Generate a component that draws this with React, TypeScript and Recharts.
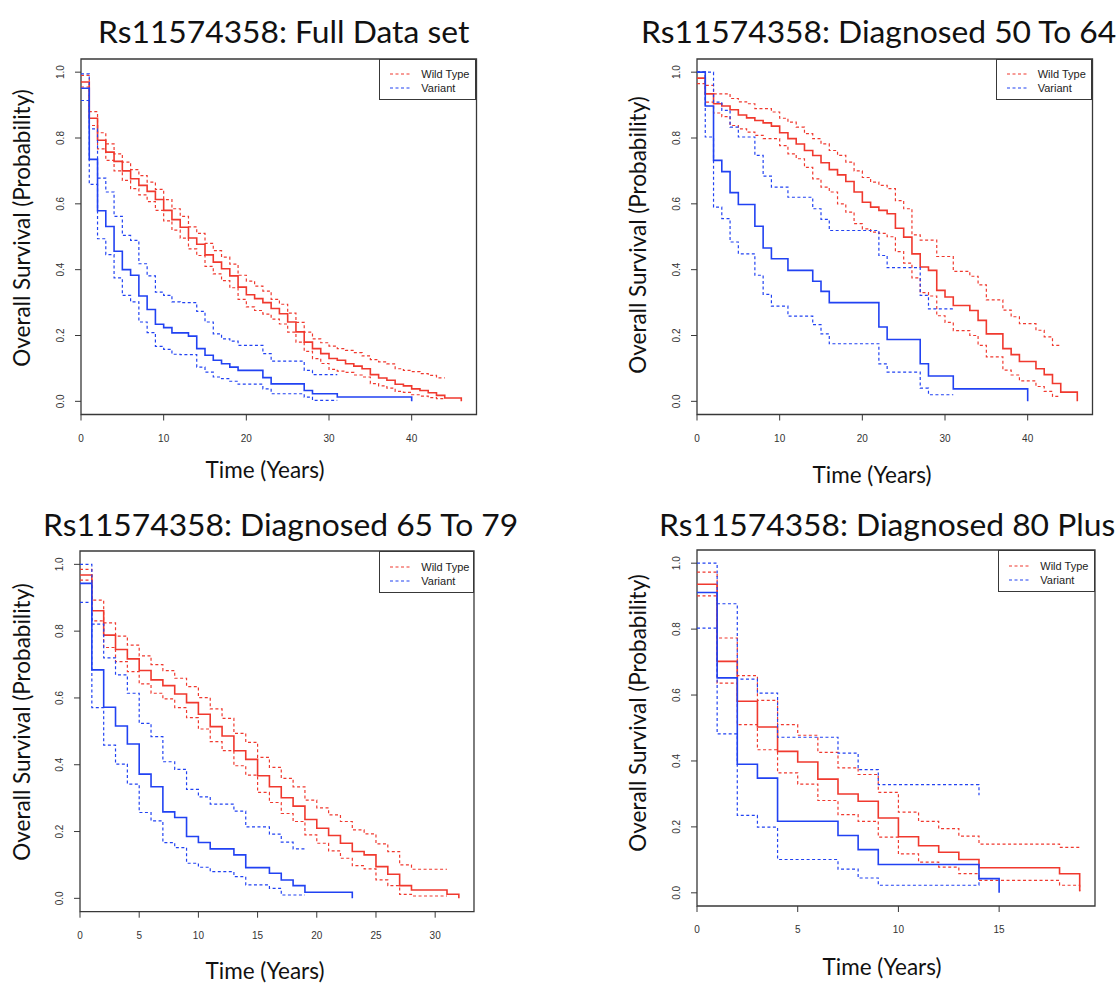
import React from "react";
import { LineChart, Line, XAxis, YAxis, ReferenceArea } from "recharts";

const RED = "#f0392e";
const BLUE = "#2142f2";
const FRAME = "#383838";
const TICK_FONT = "'Liberation Sans', Arial, sans-serif";
const LABEL_FONT = "Lato, 'Open Sans', sans-serif";

// ---------- Full data set ----------
const fullWtYears = [0, 1, 2, 3, 4, 5, 6, 7, 8, 9, 10, 11, 12, 13, 14, 15, 16, 17, 18, 19, 20, 21, 22, 23, 24, 25, 26, 27, 28, 29, 30, 31, 32, 33, 34, 35, 36, 37, 38, 39, 40, 41, 42, 43, 44, 45, 46];
const fullWtEst = [0.97, 0.86, 0.793, 0.757, 0.729, 0.7, 0.676, 0.656, 0.638, 0.613, 0.58, 0.552, 0.529, 0.496, 0.477, 0.445, 0.423, 0.403, 0.381, 0.347, 0.324, 0.312, 0.3, 0.282, 0.266, 0.241, 0.211, 0.18, 0.16, 0.145, 0.13, 0.125, 0.114, 0.107, 0.099, 0.081, 0.071, 0.064, 0.052, 0.047, 0.038, 0.033, 0.026, 0.018, 0.01, 0.01, 0];
const fullWtHi = [0.99, 0.88, 0.816, 0.782, 0.752, 0.727, 0.704, 0.686, 0.666, 0.644, 0.613, 0.585, 0.562, 0.53, 0.51, 0.48, 0.458, 0.438, 0.417, 0.383, 0.365, 0.35, 0.335, 0.31, 0.295, 0.268, 0.24, 0.21, 0.19, 0.178, 0.168, 0.16, 0.155, 0.148, 0.138, 0.127, 0.12, 0.114, 0.099, 0.094, 0.09, 0.084, 0.079, 0.071, 0.071];
const fullWtLo = [0.955, 0.838, 0.767, 0.732, 0.7, 0.671, 0.646, 0.627, 0.607, 0.58, 0.548, 0.52, 0.496, 0.463, 0.443, 0.41, 0.387, 0.367, 0.345, 0.31, 0.287, 0.276, 0.265, 0.25, 0.235, 0.21, 0.18, 0.152, 0.13, 0.115, 0.097, 0.092, 0.088, 0.08, 0.074, 0.054, 0.047, 0.04, 0.03, 0.027, 0.02, 0.016, 0.011, 0.008, 0.008];
const fullVarYears = [0, 1, 2, 3, 4, 5, 6, 7, 8, 9, 10, 11, 12, 13, 14, 15, 16, 17, 18, 19, 22, 23, 27, 28, 31, 40];
const fullVarEst = [0.951, 0.735, 0.579, 0.531, 0.456, 0.4, 0.383, 0.32, 0.279, 0.234, 0.224, 0.208, 0.208, 0.198, 0.16, 0.14, 0.125, 0.114, 0.104, 0.094, 0.072, 0.053, 0.033, 0.023, 0.013, 0];
const fullVarHi = [0.995, 0.828, 0.678, 0.636, 0.562, 0.504, 0.489, 0.418, 0.381, 0.332, 0.322, 0.302, 0.3, 0.3, 0.273, 0.241, 0.205, 0.19, 0.183, 0.17, 0.145, 0.122, 0.094, 0.081, 0.081];
const fullVarLo = [0.914, 0.659, 0.494, 0.446, 0.375, 0.322, 0.302, 0.241, 0.209, 0.167, 0.158, 0.143, 0.142, 0.142, 0.104, 0.089, 0.074, 0.069, 0.061, 0.052, 0.038, 0.023, 0.013, 0.003, 0.003];

// ---------- Diagnosed 50 to 64 ----------
const midWtYears = [0, 1, 2, 3, 4, 5, 6, 7, 8, 9, 10, 11, 12, 13, 14, 15, 16, 17, 18, 19, 20, 21, 22, 23, 24, 25, 26, 27, 28, 29, 30, 31, 32, 33, 34, 35, 36, 37, 38, 39, 40, 41, 42, 43, 44, 45, 46];
const midWtEst = [0.982, 0.934, 0.904, 0.897, 0.886, 0.87, 0.861, 0.853, 0.846, 0.836, 0.816, 0.798, 0.782, 0.762, 0.747, 0.725, 0.704, 0.688, 0.668, 0.636, 0.605, 0.59, 0.58, 0.57, 0.526, 0.499, 0.448, 0.408, 0.398, 0.337, 0.317, 0.291, 0.291, 0.276, 0.246, 0.205, 0.205, 0.16, 0.142, 0.121, 0.121, 0.099, 0.081, 0.054, 0.028, 0.028, 0];
const midWtHi = [1.0, 0.96, 0.934, 0.934, 0.92, 0.91, 0.904, 0.889, 0.889, 0.879, 0.86, 0.848, 0.833, 0.813, 0.798, 0.782, 0.762, 0.747, 0.727, 0.7, 0.68, 0.666, 0.656, 0.646, 0.61, 0.585, 0.506, 0.49, 0.49, 0.44, 0.44, 0.395, 0.395, 0.38, 0.354, 0.308, 0.308, 0.277, 0.257, 0.236, 0.236, 0.216, 0.196, 0.17, 0.17];
const midWtLo = [0.965, 0.909, 0.876, 0.865, 0.838, 0.828, 0.818, 0.808, 0.798, 0.798, 0.777, 0.752, 0.737, 0.711, 0.676, 0.651, 0.636, 0.6, 0.575, 0.54, 0.524, 0.514, 0.51, 0.5, 0.455, 0.42, 0.375, 0.33, 0.32, 0.26, 0.24, 0.215, 0.215, 0.2, 0.17, 0.135, 0.135, 0.095, 0.08, 0.062, 0.062, 0.045, 0.03, 0.015, 0.015];
const midVarYears = [0, 1, 2, 3, 4, 5, 7, 8, 9, 11, 14, 15, 16, 22, 23, 27, 28, 31, 40];
const midVarEst = [1.0, 0.897, 0.732, 0.698, 0.634, 0.598, 0.532, 0.466, 0.433, 0.398, 0.365, 0.334, 0.3, 0.226, 0.188, 0.114, 0.077, 0.038, 0];
const midVarHi = [1.0, 1.0, 0.909, 0.884, 0.833, 0.803, 0.747, 0.684, 0.651, 0.62, 0.585, 0.553, 0.519, 0.443, 0.406, 0.322, 0.281, 0.281];
const midVarLo = [1.0, 0.803, 0.59, 0.555, 0.484, 0.448, 0.383, 0.325, 0.289, 0.259, 0.233, 0.205, 0.175, 0.114, 0.089, 0.04, 0.02, 0.02];

// ---------- Diagnosed 65 to 79 ----------
const oldWtYears = [0, 1, 2, 3, 4, 5, 6, 7, 8, 9, 10, 11, 12, 13, 14, 15, 16, 17, 18, 19, 20, 21, 22, 23, 24, 25, 26, 27, 28, 29, 30, 31, 32];
const oldWtEst = [0.968, 0.861, 0.788, 0.745, 0.717, 0.682, 0.654, 0.637, 0.612, 0.586, 0.551, 0.514, 0.486, 0.442, 0.416, 0.367, 0.334, 0.301, 0.276, 0.236, 0.21, 0.188, 0.165, 0.14, 0.13, 0.095, 0.072, 0.038, 0.025, 0.025, 0.025, 0.012, 0];
const oldWtHi = [0.985, 0.893, 0.825, 0.785, 0.758, 0.726, 0.7, 0.682, 0.659, 0.634, 0.601, 0.567, 0.539, 0.494, 0.467, 0.422, 0.392, 0.359, 0.334, 0.294, 0.271, 0.25, 0.23, 0.205, 0.193, 0.163, 0.14, 0.1, 0.087, 0.087, 0.087, 0.087];
const oldWtLo = [0.953, 0.831, 0.751, 0.709, 0.679, 0.642, 0.614, 0.597, 0.571, 0.541, 0.507, 0.469, 0.442, 0.397, 0.369, 0.317, 0.287, 0.254, 0.23, 0.19, 0.165, 0.142, 0.12, 0.098, 0.088, 0.055, 0.038, 0.012, 0.007, 0.007, 0.007, 0.007];
const oldVarYears = [0, 1, 2, 3, 4, 5, 6, 7, 8, 9, 10, 11, 13, 14, 16, 17, 18, 19, 23];
const oldVarEst = [0.943, 0.684, 0.572, 0.516, 0.462, 0.372, 0.334, 0.259, 0.242, 0.185, 0.167, 0.148, 0.13, 0.092, 0.075, 0.055, 0.038, 0.018, 0];
const oldVarHi = [1.0, 0.821, 0.72, 0.669, 0.614, 0.524, 0.484, 0.409, 0.386, 0.326, 0.304, 0.282, 0.261, 0.214, 0.192, 0.168, 0.148, 0.148];
const oldVarLo = [0.886, 0.571, 0.459, 0.402, 0.342, 0.257, 0.232, 0.167, 0.152, 0.105, 0.093, 0.08, 0.065, 0.04, 0.03, 0.01, 0.01, 0.01];

// ---------- Diagnosed 80 plus ----------
const eldWtYears = [0, 1, 2, 3, 4, 5, 6, 7, 8, 9, 10, 11, 12, 13, 14, 18, 19];
const eldWtEst = [0.936, 0.702, 0.581, 0.503, 0.429, 0.397, 0.345, 0.3, 0.278, 0.227, 0.17, 0.143, 0.123, 0.101, 0.076, 0.058, 0.005];
const eldWtHi = [0.973, 0.773, 0.659, 0.584, 0.51, 0.478, 0.426, 0.379, 0.359, 0.305, 0.245, 0.217, 0.195, 0.172, 0.148, 0.138, 0.138];
const eldWtLo = [0.901, 0.636, 0.51, 0.434, 0.364, 0.33, 0.28, 0.237, 0.217, 0.169, 0.118, 0.093, 0.078, 0.058, 0.038, 0.023, 0.005];
const eldVarYears = [0, 1, 2, 3, 4, 7, 8, 9, 14, 15];
const eldVarEst = [0.911, 0.652, 0.39, 0.348, 0.217, 0.174, 0.131, 0.086, 0.043, 0];
const eldVarHi = [1.0, 0.877, 0.648, 0.606, 0.472, 0.424, 0.374, 0.328, 0.296];
const eldVarLo = [0.803, 0.482, 0.235, 0.199, 0.101, 0.072, 0.045, 0.023, 0.045];

const yTicks = [0, 0.2, 0.4, 0.6, 0.8, 1.0];

type Group = { key: string; years: number[]; est: number[]; hi: number[]; lo: number[] };

// merge the step points of both groups into one table keyed by time
function buildRows(groups: Group[]) {
  const byT = new Map<number, any>();
  const put = (t: number, k: string, v: number | undefined) => {
    if (v === undefined) return;
    const row = byT.get(t) ?? { t };
    row[k] = v;
    byT.set(t, row);
  };
  groups.forEach((g) => {
    g.years.forEach((t, i) => {
      put(t, g.key + "Est", g.est[i]);
      put(t, g.key + "Hi", g.hi[i]);
      put(t, g.key + "Lo", g.lo[i]);
    });
  });
  return [...byT.values()].sort((a, b) => a.t - b.t);
}

const panels = [
  {
    title: "Rs11574358: Full Data set",
    titleAt: [98, 43],
    plot: { x: 80.5, y: 58.5, w: 395.5, h: 355.5 },
    xMax: 46,
    xTicks: [0, 10, 20, 30, 40],
    legendLeft: 379.3,
    legendH: 41.5,
    yLabelAt: [30, 228],
    xLabelAt: [265, 478],
    rows: buildRows([
      { key: "wt", years: fullWtYears, est: fullWtEst, hi: fullWtHi, lo: fullWtLo },
      { key: "va", years: fullVarYears, est: fullVarEst, hi: fullVarHi, lo: fullVarLo },
    ]),
  },
  {
    title: "Rs11574358: Diagnosed 50 To 64",
    titleAt: [641, 43],
    plot: { x: 696.5, y: 58.5, w: 395.5, h: 355.5 },
    xMax: 46,
    xTicks: [0, 10, 20, 30, 40],
    legendLeft: 995.7,
    legendH: 41.5,
    yLabelAt: [646, 235],
    xLabelAt: [872, 483],
    rows: buildRows([
      { key: "wt", years: midWtYears, est: midWtEst, hi: midWtHi, lo: midWtLo },
      { key: "va", years: midVarYears, est: midVarEst, hi: midVarHi, lo: midVarLo },
    ]),
  },
  {
    title: "Rs11574358: Diagnosed 65 To 79",
    titleAt: [43, 536],
    plot: { x: 80, y: 551, w: 394, h: 360.7 },
    xMax: 32,
    xTicks: [0, 5, 10, 15, 20, 25, 30],
    legendLeft: 379.3,
    legendH: 42.3,
    yLabelAt: [30, 722],
    xLabelAt: [265, 979],
    rows: buildRows([
      { key: "wt", years: oldWtYears, est: oldWtEst, hi: oldWtHi, lo: oldWtLo },
      { key: "va", years: oldVarYears, est: oldVarEst, hi: oldVarHi, lo: oldVarLo },
    ]),
  },
  {
    title: "Rs11574358: Diagnosed 80 Plus",
    titleAt: [659, 536],
    plot: { x: 696.7, y: 550, w: 398, h: 356 },
    xMax: 19,
    xTicks: [0, 5, 10, 15],
    legendLeft: 998.3,
    legendH: 41.7,
    yLabelAt: [646, 713],
    xLabelAt: [882, 975],
    rows: buildRows([
      { key: "wt", years: eldWtYears, est: eldWtEst, hi: eldWtHi, lo: eldWtLo },
      { key: "va", years: eldVarYears, est: eldVarEst, hi: eldVarHi, lo: eldVarLo },
    ]),
  },
];

function YTick(props: any) {
  const { x, y, payload } = props;
  return (
    <text
      x={x}
      y={y}
      transform={`rotate(-90 ${x} ${y})`}
      textAnchor="middle"
      fontSize={10}
      fill="#333"
      fontFamily={TICK_FONT}
    >
      {Number(payload.value).toFixed(1)}
    </text>
  );
}

const series = [
  { key: "wtEst", color: RED, dash: undefined, w: 1.6 },
  { key: "wtHi", color: RED, dash: "3 2.5", w: 1.2 },
  { key: "wtLo", color: RED, dash: "3 2.5", w: 1.2 },
  { key: "vaEst", color: BLUE, dash: undefined, w: 1.6 },
  { key: "vaHi", color: BLUE, dash: "3 2.5", w: 1.2 },
  { key: "vaLo", color: BLUE, dash: "3 2.5", w: 1.2 },
];

// recharts leaves 10px extra below the plot, so the svg gets that back
const EXTRA_H = 10;

function Panel({ p }: { p: (typeof panels)[number] }) {
  const { plot } = p;
  // survfit style axis: starts at 0, 4% headroom on the right
  const xEnd = p.xMax * 1.04;
  return (
    <div style={{ position: "absolute", left: plot.x - 60, top: plot.y - 10 }}>
      <LineChart
        width={plot.w + 70}
        height={plot.h + 60 + EXTRA_H}
        data={p.rows}
        margin={{ top: 10, right: 10, bottom: 0, left: 0 }}
      >
        <XAxis
          dataKey="t"
          type="number"
          domain={[0, xEnd]}
          ticks={p.xTicks}
          interval={0}
          allowDataOverflow
          height={60}
          axisLine={false}
          tickSize={6}
          tickMargin={14}
          tickLine={{ stroke: FRAME, strokeWidth: 1 }}
          tick={{ fontSize: 10, fill: "#333", fontFamily: TICK_FONT }}
        />
        <YAxis
          type="number"
          domain={[-0.04, 1.04]}
          ticks={yTicks}
          interval={0}
          allowDataOverflow
          width={60}
          axisLine={false}
          tickSize={6}
          tickMargin={11}
          tickLine={{ stroke: FRAME, strokeWidth: 1 }}
          tick={YTick}
        />
        <ReferenceArea
          x1={0}
          x2={xEnd}
          y1={-0.04}
          y2={1.04}
          fill="none"
          stroke={FRAME}
          strokeWidth={1.3}
          ifOverflow="visible"
        />
        {series.map((s) => (
          <Line
            key={s.key}
            dataKey={s.key}
            type="stepAfter"
            stroke={s.color}
            strokeWidth={s.w}
            strokeDasharray={s.dash}
            dot={false}
            activeDot={false}
            connectNulls
            isAnimationActive={false}
          />
        ))}
      </LineChart>
    </div>
  );
}

function LegendBox({ left, top, right, height }: { left: number; top: number; right: number; height: number }) {
  const items = [
    { label: "Wild Type", color: RED },
    { label: "Variant", color: BLUE },
  ];
  return (
    <div
      style={{
        position: "absolute",
        left,
        top,
        width: right - left,
        height,
        boxSizing: "border-box",
        border: `1.2px solid ${FRAME}`,
        background: "#fff",
      }}
    >
      {items.map((it, i) => (
        <div
          key={it.label}
          style={{
            position: "absolute",
            left: 0,
            top: 7.5 + i * 14,
            height: 14,
            display: "flex",
            alignItems: "center",
            fontFamily: TICK_FONT,
            fontSize: 11,
            color: "#222",
            whiteSpace: "nowrap",
          }}
        >
          <svg width={41} height={14}>
            <line x1={10} x2={31} y1={7} y2={7} stroke={it.color} strokeWidth={1.2} strokeDasharray="3 2.5" />
          </svg>
          <span>{it.label}</span>
        </div>
      ))}
    </div>
  );
}

export default function App() {
  return (
    <div
      style={{
        position: "absolute",
        left: 0,
        top: 0,
        width: 1117,
        height: 985,
        overflow: "hidden",
        background: "#fff",
      }}
    >
      <svg width={1117} height={985} style={{ position: "absolute", left: 0, top: 0 }}>
        {panels.map((p) => (
          <g key={p.title} fontFamily={LABEL_FONT} fill="#111">
            <text x={p.titleAt[0]} y={p.titleAt[1]} fontSize={31.8}>
              {p.title}
            </text>
            <text x={p.xLabelAt[0]} y={p.xLabelAt[1]} fontSize={22.5} textAnchor="middle">
              Time (Years)
            </text>
            <text
              x={p.yLabelAt[0]}
              y={p.yLabelAt[1]}
              fontSize={22.5}
              textAnchor="middle"
              transform={`rotate(-90 ${p.yLabelAt[0]} ${p.yLabelAt[1]})`}
            >
              Overall Survival (Probability)
            </text>
          </g>
        ))}
      </svg>
      {panels.map((p) => (
        <React.Fragment key={p.title}>
          <Panel p={p} />
          <LegendBox
            left={p.legendLeft}
            top={p.plot.y}
            right={p.plot.x + p.plot.w}
            height={p.legendH}
          />
        </React.Fragment>
      ))}
    </div>
  );
}
